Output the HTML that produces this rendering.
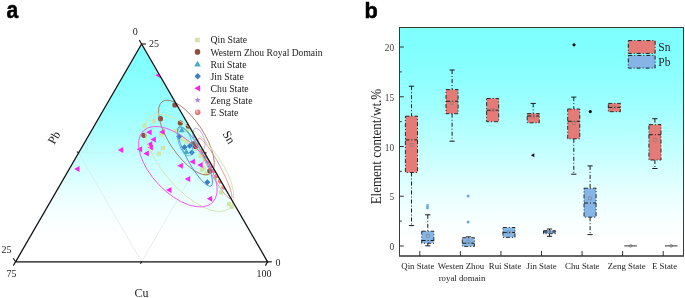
<!DOCTYPE html>
<html><head><meta charset="utf-8">
<style>
html,body{margin:0;padding:0;background:#fff;width:685px;height:298px;overflow:hidden}
svg{display:block;will-change:transform}
text{font-family:"Liberation Serif",serif;fill:#222}
.tk{fill:#3c3c3c}
.pl{font-family:"Liberation Sans",sans-serif;font-weight:bold;fill:#000}
</style></head><body>
<svg width="685" height="298" viewBox="0 0 685 298">
<defs>
<linearGradient id="gt" x1="0" y1="44" x2="0" y2="262" gradientUnits="userSpaceOnUse">
<stop offset="0.000" stop-color="rgb(128,255,255)"/><stop offset="0.106" stop-color="rgb(132,255,255)"/><stop offset="0.261" stop-color="rgb(148,255,255)"/><stop offset="0.399" stop-color="rgb(170,255,255)"/><stop offset="0.555" stop-color="rgb(205,255,255)"/><stop offset="0.693" stop-color="rgb(235,255,255)"/><stop offset="0.839" stop-color="rgb(252,255,255)"/><stop offset="0.899" stop-color="rgb(255,255,255)"/><stop offset="1.000" stop-color="rgb(255,255,255)"/>
</linearGradient>
<linearGradient id="gb" x1="0" y1="27.5" x2="0" y2="256" gradientUnits="userSpaceOnUse">
<stop offset="0.000" stop-color="rgb(128,255,255)"/><stop offset="0.098" stop-color="rgb(129,255,255)"/><stop offset="0.190" stop-color="rgb(138,255,255)"/><stop offset="0.322" stop-color="rgb(156,255,255)"/><stop offset="0.453" stop-color="rgb(180,255,255)"/><stop offset="0.584" stop-color="rgb(204,255,255)"/><stop offset="0.716" stop-color="rgb(230,255,255)"/><stop offset="0.847" stop-color="rgb(248,255,255)"/><stop offset="0.930" stop-color="rgb(255,255,255)"/><stop offset="1.000" stop-color="rgb(255,255,255)"/>
</linearGradient>
<clipPath id="tri"><polygon points="141.6,44 15.6,261.8 267.6,261.8"/></clipPath>
</defs>
<rect width="685" height="298" fill="#fff"/>

<!-- ===== panel a ===== -->
<text class="pl" x="0" y="0" font-size="24" stroke="#000" stroke-width="0.5" transform="translate(6.6,18.3) scale(0.88,1)">a</text>
<polygon points="141.6,44 15.6,261.8 267.6,261.8" fill="url(#gt)"/>
<!-- grid -->
<g stroke="#dadada" stroke-width="0.5" fill="none">
<line x1="141.6" y1="261.8" x2="78.6" y2="152.9"/>
<line x1="141.6" y1="261.8" x2="204.6" y2="152.9"/>
<line x1="78.6" y1="152.9" x2="204.6" y2="152.9" stroke-dasharray="1,2" stroke="#c8c8c8"/>
</g>
<g id="scatter">
<g clip-path="url(#tri)">
<rect x="198.7" y="152.8" width="4.2" height="4.2" fill="#cfe6a6"/>
<rect x="202.7" y="158.2" width="4.2" height="4.2" fill="#cfe6a6"/>
<rect x="200.0" y="167.6" width="4.2" height="4.2" fill="#cfe6a6"/>
<rect x="204.1" y="171.6" width="4.2" height="4.2" fill="#cfe6a6"/>
<rect x="151.8" y="119.2" width="4.2" height="4.2" fill="#cfe6a6"/>
<rect x="142.4" y="123.5" width="4.2" height="4.2" fill="#cfe6a6"/>
<rect x="159.0" y="132.4" width="4.2" height="4.2" fill="#cfe6a6"/>
<rect x="160.8" y="145.8" width="4.2" height="4.2" fill="#cfe6a6"/>
<rect x="156.8" y="151.5" width="4.2" height="4.2" fill="#cfe6a6"/>
<rect x="174.0" y="128.8" width="4.2" height="4.2" fill="#cfe6a6"/>
<rect x="185.2" y="128.8" width="4.2" height="4.2" fill="#cfe6a6"/>
<rect x="180.5" y="137.0" width="4.2" height="4.2" fill="#cfe6a6"/>
<rect x="184.6" y="140.0" width="4.2" height="4.2" fill="#cfe6a6"/>
<rect x="195.4" y="146.8" width="4.2" height="4.2" fill="#cfe6a6"/>
<rect x="198.3" y="153.9" width="4.2" height="4.2" fill="#cfe6a6"/>
<rect x="201.6" y="166.0" width="4.2" height="4.2" fill="#cfe6a6"/>
<rect x="213.0" y="175.4" width="4.2" height="4.2" fill="#cfe6a6"/>
<rect x="218.9" y="190.5" width="4.2" height="4.2" fill="#cfe6a6"/>
<rect x="229.5" y="204.7" width="4.2" height="4.2" fill="#cfe6a6"/>
<rect x="226.9" y="201.9" width="4.2" height="4.2" fill="#cfe6a6"/>
<circle cx="174.9" cy="104.9" r="2.6" fill="#8c4f3e"/>
<circle cx="160.5" cy="118.7" r="2.6" fill="#8c4f3e"/>
<circle cx="180.3" cy="122.9" r="2.6" fill="#8c4f3e"/>
<circle cx="188.3" cy="126.1" r="2.6" fill="#8c4f3e"/>
<circle cx="143.9" cy="135.3" r="2.6" fill="#8c4f3e"/>
<circle cx="193.2" cy="143.8" r="2.6" fill="#8c4f3e"/>
<circle cx="209.8" cy="170.8" r="2.6" fill="#8c4f3e"/>
<circle cx="195.5" cy="146.5" r="2.6" fill="#8c4f3e"/>
<polygon points="181.8,126.8 178.8,132.2 184.8,132.2" fill="#4aa9c6"/>
<polygon points="186.4,148.5 183.4,153.9 189.4,153.9" fill="#4aa9c6"/>
<polygon points="179.1,133.5 182.1,136.5 179.1,139.5 176.1,136.5" fill="#3d7ec4"/>
<polygon points="184.5,144.2 187.5,147.2 184.5,150.2 181.5,147.2" fill="#3d7ec4"/>
<polygon points="189.8,142.9 192.8,145.9 189.8,148.9 186.8,145.9" fill="#3d7ec4"/>
<polygon points="191.8,149.6 194.8,152.6 191.8,155.6 188.8,152.6" fill="#3d7ec4"/>
<polygon points="207.3,179.2 210.3,182.2 207.3,185.2 204.3,182.2" fill="#3d7ec4"/>
<polygon points="155.3,75.2 160.7,72.2 160.7,78.2" fill="#ff22f2"/>
<polygon points="74.1,168.9 79.5,165.9 79.5,171.9" fill="#ff22f2"/>
<polygon points="117.8,150.1 123.2,147.1 123.2,153.1" fill="#ff22f2"/>
<polygon points="136.7,149.3 142.1,146.3 142.1,152.3" fill="#ff22f2"/>
<polygon points="146.2,132.3 151.6,129.3 151.6,135.3" fill="#ff22f2"/>
<polygon points="159.2,132.1 164.6,129.1 164.6,135.1" fill="#ff22f2"/>
<polygon points="150.5,139.5 155.9,136.5 155.9,142.5" fill="#ff22f2"/>
<polygon points="146.9,144.2 152.3,141.2 152.3,147.2" fill="#ff22f2"/>
<polygon points="147.5,147.5 152.9,144.5 152.9,150.5" fill="#ff22f2"/>
<polygon points="143.4,153.6 148.8,150.6 148.8,156.6" fill="#ff22f2"/>
<polygon points="177.4,165.7 182.8,162.7 182.8,168.7" fill="#ff22f2"/>
<polygon points="189.5,161.7 194.9,158.7 194.9,164.7" fill="#ff22f2"/>
<polygon points="197.3,165.1 202.7,162.1 202.7,168.1" fill="#ff22f2"/>
<polygon points="184.8,178.9 190.2,175.9 190.2,181.9" fill="#ff22f2"/>
<polygon points="166.0,189.9 171.4,186.9 171.4,192.9" fill="#ff22f2"/>
<polygon points="206.8,198.8 212.2,195.8 212.2,201.8" fill="#ff22f2"/>
<circle cx="203.2" cy="151.0" r="2.6" fill="#e07a7a"/><circle cx="202.5" cy="150.3" r="1.2" fill="#f2b0b0"/>
<circle cx="206.1" cy="156.0" r="2.6" fill="#e07a7a"/><circle cx="205.4" cy="155.3" r="1.2" fill="#f2b0b0"/>
<circle cx="209.0" cy="161.0" r="2.6" fill="#e07a7a"/><circle cx="208.3" cy="160.3" r="1.2" fill="#f2b0b0"/>
<circle cx="211.6" cy="165.5" r="2.6" fill="#e07a7a"/><circle cx="210.9" cy="164.8" r="1.2" fill="#f2b0b0"/>
<circle cx="214.5" cy="170.5" r="2.6" fill="#e07a7a"/><circle cx="213.8" cy="169.8" r="1.2" fill="#f2b0b0"/>
<circle cx="217.4" cy="175.5" r="2.6" fill="#e07a7a"/><circle cx="216.7" cy="174.8" r="1.2" fill="#f2b0b0"/>
<circle cx="220.6" cy="181.0" r="2.6" fill="#e07a7a"/><circle cx="219.9" cy="180.3" r="1.2" fill="#f2b0b0"/>
<circle cx="224.0" cy="187.0" r="2.6" fill="#e07a7a"/><circle cx="223.3" cy="186.3" r="1.2" fill="#f2b0b0"/>
<polygon points="194.9,133.5 195.7,135.4 197.8,135.6 196.2,136.9 196.7,138.9 194.9,137.8 193.1,138.9 193.6,136.9 192.1,135.6 194.1,135.4" fill="#a987d6"/>
<polygon points="196.9,137.0 197.7,138.9 199.8,139.1 198.2,140.4 198.7,142.4 196.9,141.3 195.2,142.4 195.7,140.4 194.1,139.1 196.1,138.9" fill="#a987d6"/>
<polygon points="199.0,140.5 199.8,142.4 201.8,142.6 200.2,143.9 200.7,145.9 199.0,144.8 197.2,145.9 197.7,143.9 196.1,142.6 198.2,142.4" fill="#a987d6"/>
</g>
<ellipse cx="186.4" cy="137.5" rx="43.3" ry="17.3" transform="rotate(56.5 186.4 137.5)" fill="none" stroke="#a0705c" stroke-width="0.8" opacity="1"/>
<ellipse cx="189.4" cy="162.8" rx="60.5" ry="26.2" transform="rotate(49 189.4 162.8)" fill="none" stroke="#cfe8ab" stroke-width="0.9" opacity="1"/>
<ellipse cx="177.9" cy="166.7" rx="49.8" ry="26.2" transform="rotate(46.2 177.9 166.7)" fill="none" stroke="#ee55e6" stroke-width="0.9" opacity="1"/>
<ellipse cx="195" cy="156.5" rx="33.6" ry="8" transform="rotate(61.5 195 156.5)" fill="none" stroke="#4a86c6" stroke-width="0.8" opacity="1"/>
<ellipse cx="185" cy="141.5" rx="15" ry="6.5" transform="rotate(72 185 141.5)" fill="none" stroke="#58b0cc" stroke-width="0.8" opacity="1"/>
<ellipse cx="199" cy="139" rx="11.5" ry="5" transform="rotate(70 199 139)" fill="none" stroke="#b9a0dc" stroke-width="0.8" opacity="1"/>
<ellipse cx="214.9" cy="168.5" rx="34.4" ry="5.6" transform="rotate(61.7 214.9 168.5)" fill="none" stroke="#e39090" stroke-width="0.8" opacity="1"/>
</g><!--es-->
<!-- triangle frame -->
<polygon points="141.6,44 15.6,261.8 267.6,261.8" fill="none" stroke="#111" stroke-width="1.3" stroke-linejoin="miter"/>
<g stroke="#111" stroke-width="1.1">
<line x1="141.6" y1="44" x2="139.3" y2="40.1"/>
<line x1="141.6" y1="44" x2="145.9" y2="44"/>
<line x1="15.6" y1="261.8" x2="13.3" y2="258.2"/>
<line x1="15.6" y1="261.8" x2="13.3" y2="265.6"/>
<line x1="267.6" y1="261.8" x2="271.9" y2="261.8"/>
<line x1="267.6" y1="261.8" x2="265.4" y2="265.6"/>
<line x1="141.6" y1="261.8" x2="140.4" y2="263.8"/>
<line x1="78.6" y1="152.9" x2="76.8" y2="151.6"/>
<line x1="204.6" y1="152.9" x2="206.6" y2="152.9"/>
</g>
<g font-size="10">
<text x="135.2" y="34.5" text-anchor="middle">0</text>
<text x="149" y="47">25</text>
<text x="1.5" y="253">25</text>
<text x="6.5" y="277">75</text>
<text x="275.6" y="265.5">0</text>
<text x="256.5" y="277">100</text>
</g>
<text x="141.5" y="296.5" font-size="12" text-anchor="middle">Cu</text>
<text x="0" y="0" font-size="12" text-anchor="middle" transform="translate(54,137.5) rotate(-60) translate(0,4)">Pb</text>
<text x="0" y="0" font-size="12" text-anchor="middle" transform="translate(229,137.3) rotate(60) translate(0,4)">Sn</text>

<!-- legend a -->
<g font-size="9.75">
<text x="210.5" y="43.3">Qin State</text>
<text x="210.5" y="55.5" textLength="112" lengthAdjust="spacingAndGlyphs">Western Zhou Royal Domain</text>
<text x="210.5" y="67.6">Rui State</text>
<text x="210.5" y="80.1">Jin State</text>
<text x="210.5" y="92.2">Chu State</text>
<text x="210.5" y="103.9">Zeng State</text>
<text x="210.5" y="115.9">E State</text>
</g>
<g id="legmk">
<rect x="195.1" y="37.7" width="4.6" height="4.6" fill="#cfe6a6"/>
<circle cx="197.5" cy="51.9" r="2.8" fill="#8c4f3e"/>
<polygon points="197.5,60.7 194.2,66.6 200.8,66.6" fill="#4aa9c6"/>
<polygon points="197.7,73.1 200.9,76.3 197.7,79.5 194.5,76.3" fill="#3d7ec4"/>
<polygon points="194.3,88.2 200.1,85.0 200.1,91.4" fill="#ff22f2"/>
<polygon points="197.7,97.0 198.5,99.0 200.7,99.2 199.1,100.6 199.6,102.8 197.7,101.6 195.8,102.8 196.3,100.6 194.7,99.2 196.9,99.0" fill="#a987d6"/>
<circle cx="197.7" cy="112.3" r="2.8" fill="#e07a7a"/><circle cx="197.0" cy="111.6" r="1.3" fill="#f2b0b0"/>
</g><!--el-->

<!-- ===== panel b ===== -->
<text class="pl" x="0" y="0" font-size="22.9" stroke="#000" stroke-width="0.5" transform="translate(364.5,18.2) scale(0.95,1)">b</text>
<rect x="399.5" y="27.5" width="284" height="228.5" fill="url(#gb)"/>
<g id="boxes">
<line x1="411.5" y1="86.2" x2="411.5" y2="116.2" stroke="#1a1a1a" stroke-width="1" stroke-dasharray="4,2,1,2"/>
<line x1="408.9" y1="86.2" x2="414.1" y2="86.2" stroke="#1a1a1a" stroke-width="1"/>
<line x1="411.5" y1="172.5" x2="411.5" y2="225.6" stroke="#1a1a1a" stroke-width="1" stroke-dasharray="4,2,1,2"/>
<line x1="408.9" y1="225.6" x2="414.1" y2="225.6" stroke="#1a1a1a" stroke-width="1"/>
<rect x="405.4" y="116.2" width="12.1" height="56.3" fill="#e47b77" stroke="#1a1a1a" stroke-width="0.9" stroke-dasharray="4,2,1,2"/>
<line x1="405.4" y1="139.9" x2="417.5" y2="139.9" stroke="#1a1a1a" stroke-width="1" stroke-dasharray="4,2,1,2"/>
<rect x="410.0" y="143.5" width="3" height="3" fill="none" stroke="#777" stroke-width="0.45"/>
<line x1="427.8" y1="214.8" x2="427.8" y2="231.2" stroke="#1a1a1a" stroke-width="1" stroke-dasharray="4,2,1,2"/>
<line x1="425.2" y1="214.8" x2="430.4" y2="214.8" stroke="#1a1a1a" stroke-width="1"/>
<line x1="427.8" y1="243.3" x2="427.8" y2="245.8" stroke="#1a1a1a" stroke-width="1" stroke-dasharray="4,2,1,2"/>
<line x1="425.2" y1="245.8" x2="430.4" y2="245.8" stroke="#1a1a1a" stroke-width="1"/>
<rect x="421.7" y="231.2" width="12.1" height="12.1" fill="#85b4e6" stroke="#1a1a1a" stroke-width="0.9" stroke-dasharray="4,2,1,2"/>
<line x1="421.7" y1="240.5" x2="433.8" y2="240.5" stroke="#1a1a1a" stroke-width="1" stroke-dasharray="4,2,1,2"/>
<rect x="426.3" y="234.2" width="3" height="3" fill="none" stroke="#777" stroke-width="0.45"/>
<line x1="452.1" y1="70.0" x2="452.1" y2="89.6" stroke="#1a1a1a" stroke-width="1" stroke-dasharray="4,2,1,2"/>
<line x1="449.5" y1="70.0" x2="454.7" y2="70.0" stroke="#1a1a1a" stroke-width="1"/>
<line x1="452.1" y1="113.7" x2="452.1" y2="141.2" stroke="#1a1a1a" stroke-width="1" stroke-dasharray="4,2,1,2"/>
<line x1="449.5" y1="141.2" x2="454.7" y2="141.2" stroke="#1a1a1a" stroke-width="1"/>
<rect x="446.0" y="89.6" width="12.1" height="24.1" fill="#e47b77" stroke="#1a1a1a" stroke-width="0.9" stroke-dasharray="4,2,1,2"/>
<line x1="446.0" y1="101.2" x2="458.1" y2="101.2" stroke="#1a1a1a" stroke-width="1" stroke-dasharray="4,2,1,2"/>
<rect x="450.6" y="101.3" width="3" height="3" fill="none" stroke="#777" stroke-width="0.45"/>
<line x1="468.4" y1="236.9" x2="468.4" y2="237.7" stroke="#1a1a1a" stroke-width="1" stroke-dasharray="4,2,1,2"/>
<line x1="465.8" y1="236.9" x2="471.0" y2="236.9" stroke="#1a1a1a" stroke-width="1"/>
<rect x="462.3" y="237.7" width="12.1" height="8.7" fill="#85b4e6" stroke="#1a1a1a" stroke-width="0.9" stroke-dasharray="4,2,1,2"/>
<line x1="462.3" y1="243.2" x2="474.4" y2="243.2" stroke="#1a1a1a" stroke-width="1" stroke-dasharray="4,2,1,2"/>
<rect x="466.9" y="240.0" width="3" height="3" fill="none" stroke="#777" stroke-width="0.45"/>
<rect x="486.6" y="98.5" width="12.1" height="23.2" fill="#e47b77" stroke="#1a1a1a" stroke-width="0.9" stroke-dasharray="4,2,1,2"/>
<line x1="486.6" y1="110.2" x2="498.7" y2="110.2" stroke="#1a1a1a" stroke-width="1" stroke-dasharray="4,2,1,2"/>
<rect x="491.1" y="108.7" width="3" height="3" fill="none" stroke="#777" stroke-width="0.45"/>
<rect x="502.9" y="227.5" width="12.1" height="9.9" fill="#85b4e6" stroke="#1a1a1a" stroke-width="0.9" stroke-dasharray="4,2,1,2"/>
<line x1="502.9" y1="232.4" x2="515.0" y2="232.4" stroke="#1a1a1a" stroke-width="1" stroke-dasharray="4,2,1,2"/>
<rect x="507.4" y="230.9" width="3" height="3" fill="none" stroke="#777" stroke-width="0.45"/>
<line x1="533.2" y1="103.4" x2="533.2" y2="113.6" stroke="#1a1a1a" stroke-width="1" stroke-dasharray="4,2,1,2"/>
<line x1="530.6" y1="103.4" x2="535.8" y2="103.4" stroke="#1a1a1a" stroke-width="1"/>
<rect x="527.2" y="113.6" width="12.1" height="9.2" fill="#e47b77" stroke="#1a1a1a" stroke-width="0.9" stroke-dasharray="4,2,1,2"/>
<line x1="527.2" y1="116.0" x2="539.3" y2="116.0" stroke="#1a1a1a" stroke-width="1" stroke-dasharray="4,2,1,2"/>
<rect x="531.7" y="115.0" width="3" height="3" fill="none" stroke="#777" stroke-width="0.45"/>
<line x1="549.5" y1="229.0" x2="549.5" y2="230.7" stroke="#1a1a1a" stroke-width="1" stroke-dasharray="4,2,1,2"/>
<line x1="546.9" y1="229.0" x2="552.1" y2="229.0" stroke="#1a1a1a" stroke-width="1"/>
<line x1="549.5" y1="233.7" x2="549.5" y2="236.3" stroke="#1a1a1a" stroke-width="1" stroke-dasharray="4,2,1,2"/>
<line x1="546.9" y1="236.3" x2="552.1" y2="236.3" stroke="#1a1a1a" stroke-width="1"/>
<rect x="543.5" y="230.7" width="12.1" height="3.0" fill="#85b4e6" stroke="#1a1a1a" stroke-width="0.9" stroke-dasharray="4,2,1,2"/>
<line x1="543.5" y1="232.0" x2="555.6" y2="232.0" stroke="#1a1a1a" stroke-width="1" stroke-dasharray="4,2,1,2"/>
<rect x="548.0" y="230.7" width="3" height="3" fill="none" stroke="#777" stroke-width="0.45"/>
<line x1="573.8" y1="97.1" x2="573.8" y2="109.0" stroke="#1a1a1a" stroke-width="1" stroke-dasharray="4,2,1,2"/>
<line x1="571.2" y1="97.1" x2="576.4" y2="97.1" stroke="#1a1a1a" stroke-width="1"/>
<line x1="573.8" y1="138.8" x2="573.8" y2="174.2" stroke="#1a1a1a" stroke-width="1" stroke-dasharray="4,2,1,2"/>
<line x1="571.2" y1="174.2" x2="576.4" y2="174.2" stroke="#1a1a1a" stroke-width="1"/>
<rect x="567.7" y="109.0" width="12.1" height="29.8" fill="#e47b77" stroke="#1a1a1a" stroke-width="0.9" stroke-dasharray="4,2,1,2"/>
<line x1="567.7" y1="121.3" x2="579.8" y2="121.3" stroke="#1a1a1a" stroke-width="1" stroke-dasharray="4,2,1,2"/>
<rect x="572.3" y="121.7" width="3" height="3" fill="none" stroke="#777" stroke-width="0.45"/>
<line x1="590.1" y1="165.9" x2="590.1" y2="188.2" stroke="#1a1a1a" stroke-width="1" stroke-dasharray="4,2,1,2"/>
<line x1="587.5" y1="165.9" x2="592.7" y2="165.9" stroke="#1a1a1a" stroke-width="1"/>
<line x1="590.1" y1="217.2" x2="590.1" y2="234.6" stroke="#1a1a1a" stroke-width="1" stroke-dasharray="4,2,1,2"/>
<line x1="587.5" y1="234.6" x2="592.7" y2="234.6" stroke="#1a1a1a" stroke-width="1"/>
<rect x="584.0" y="188.2" width="12.1" height="29.0" fill="#85b4e6" stroke="#1a1a1a" stroke-width="0.9" stroke-dasharray="4,2,1,2"/>
<line x1="584.0" y1="203.0" x2="596.1" y2="203.0" stroke="#1a1a1a" stroke-width="1" stroke-dasharray="4,2,1,2"/>
<rect x="588.6" y="196.9" width="3" height="3" fill="none" stroke="#777" stroke-width="0.45"/>
<rect x="608.3" y="103.4" width="12.1" height="8.3" fill="#e47b77" stroke="#1a1a1a" stroke-width="0.9" stroke-dasharray="4,2,1,2"/>
<line x1="608.3" y1="107.4" x2="620.4" y2="107.4" stroke="#1a1a1a" stroke-width="1" stroke-dasharray="4,2,1,2"/>
<rect x="612.8" y="105.9" width="3" height="3" fill="none" stroke="#777" stroke-width="0.45"/>
<line x1="624.3" y1="245.9" x2="636.9" y2="245.9" stroke="#333" stroke-width="1"/>
<circle cx="630.6" cy="245.9" r="1.4" fill="none" stroke="#666" stroke-width="0.6"/>
<line x1="654.9" y1="118.7" x2="654.9" y2="124.6" stroke="#1a1a1a" stroke-width="1" stroke-dasharray="4,2,1,2"/>
<line x1="652.3" y1="118.7" x2="657.5" y2="118.7" stroke="#1a1a1a" stroke-width="1"/>
<line x1="654.9" y1="160.0" x2="654.9" y2="168.5" stroke="#1a1a1a" stroke-width="1" stroke-dasharray="4,2,1,2"/>
<line x1="652.3" y1="168.5" x2="657.5" y2="168.5" stroke="#1a1a1a" stroke-width="1"/>
<rect x="648.9" y="124.6" width="12.1" height="35.4" fill="#e47b77" stroke="#1a1a1a" stroke-width="0.9" stroke-dasharray="4,2,1,2"/>
<line x1="648.9" y1="134.7" x2="661.0" y2="134.7" stroke="#1a1a1a" stroke-width="1" stroke-dasharray="4,2,1,2"/>
<rect x="653.4" y="138.5" width="3" height="3" fill="none" stroke="#777" stroke-width="0.45"/>
<line x1="664.9" y1="245.9" x2="677.5" y2="245.9" stroke="#333" stroke-width="1"/>
<circle cx="671.2" cy="245.9" r="1.4" fill="none" stroke="#666" stroke-width="0.6"/>
<rect x="426.2" y="204.2" width="2.6" height="5" fill="#6fa8e0"/>
<circle cx="468.1" cy="196" r="1.5" fill="#6fa8e0"/>
<circle cx="468.1" cy="222.1" r="1.5" fill="#6fa8e0"/>
<circle cx="574" cy="44.8" r="1.6" fill="#111"/>
<circle cx="590.3" cy="111.6" r="1.6" fill="#111"/>
<polygon points="530.8,155.2 534.3,153.2 534.3,157.2" fill="#111"/>
<rect x="628.3" y="40.6" width="26.8" height="12.8" fill="#e47b77" stroke="#1a1a1a" stroke-width="1" stroke-dasharray="4,2,1,2"/>
<rect x="628.3" y="55.4" width="26.8" height="12.7" fill="#85b4e6" stroke="#1a1a1a" stroke-width="1" stroke-dasharray="4,2,1,2"/>
<text x="658.3" y="51.3" font-size="11.5">Sn</text>
<text x="658.3" y="65.8" font-size="11.5">Pb</text>
</g><!--eb-->
<rect x="399.5" y="27.5" width="284" height="228.5" fill="none" stroke="#3a3a3a" stroke-width="1"/>
<line x1="399" y1="256" x2="684" y2="256" stroke="#555" stroke-width="1.5"/>
<g id="bticks" stroke="#333" stroke-width="1">
<line x1="399.5" y1="246.00" x2="403.8" y2="246.00"/>
<line x1="399.5" y1="196.25" x2="403.8" y2="196.25"/>
<line x1="399.5" y1="146.50" x2="403.8" y2="146.50"/>
<line x1="399.5" y1="96.75" x2="403.8" y2="96.75"/>
<line x1="399.5" y1="47.00" x2="403.8" y2="47.00"/>
<line x1="399.5" y1="221.12" x2="401.8" y2="221.12"/>
<line x1="399.5" y1="171.38" x2="401.8" y2="171.38"/>
<line x1="399.5" y1="121.63" x2="401.8" y2="121.63"/>
<line x1="399.5" y1="71.88" x2="401.8" y2="71.88"/>
<line x1="419.79" y1="256" x2="419.79" y2="251"/>
<line x1="460.36" y1="256" x2="460.36" y2="251"/>
<line x1="500.93" y1="256" x2="500.93" y2="251"/>
<line x1="541.50" y1="256" x2="541.50" y2="251"/>
<line x1="582.07" y1="256" x2="582.07" y2="251"/>
<line x1="622.64" y1="256" x2="622.64" y2="251"/>
<line x1="663.21" y1="256" x2="663.21" y2="251"/>
</g>
<g font-size="10.4" text-anchor="end" id="ylab">
<text class="tk" x="0" y="0" transform="translate(394.2,250.1) scale(0.9,1)">0</text>
<text class="tk" x="0" y="0" transform="translate(394.2,199.8) scale(0.9,1)">5</text>
<text class="tk" x="0" y="0" transform="translate(394.2,150.6) scale(0.9,1)">10</text>
<text class="tk" x="0" y="0" transform="translate(394.2,100.9) scale(0.9,1)">15</text>
<text class="tk" x="0" y="0" transform="translate(394.2,51.1) scale(0.9,1)">20</text>
</g>
<text x="0" y="0" font-size="13.8" text-anchor="middle" textLength="115.5" lengthAdjust="spacingAndGlyphs" transform="translate(380.8,146.6) rotate(-90)">Element content/wt.%</text>
<g font-size="8.8" text-anchor="middle">
<text x="417.8" y="269">Qin State</text>
<text x="461" y="269">Westen Zhou</text>
<text x="462" y="281.3">royal domain</text>
<text x="505.1" y="269">Rui State</text>
<text x="541.6" y="269">Jin State</text>
<text x="582.3" y="269">Chu State</text>
<text x="626.7" y="269">Zeng State</text>
<text x="664.6" y="269">E State</text>
</g>
</svg>
</body></html>
